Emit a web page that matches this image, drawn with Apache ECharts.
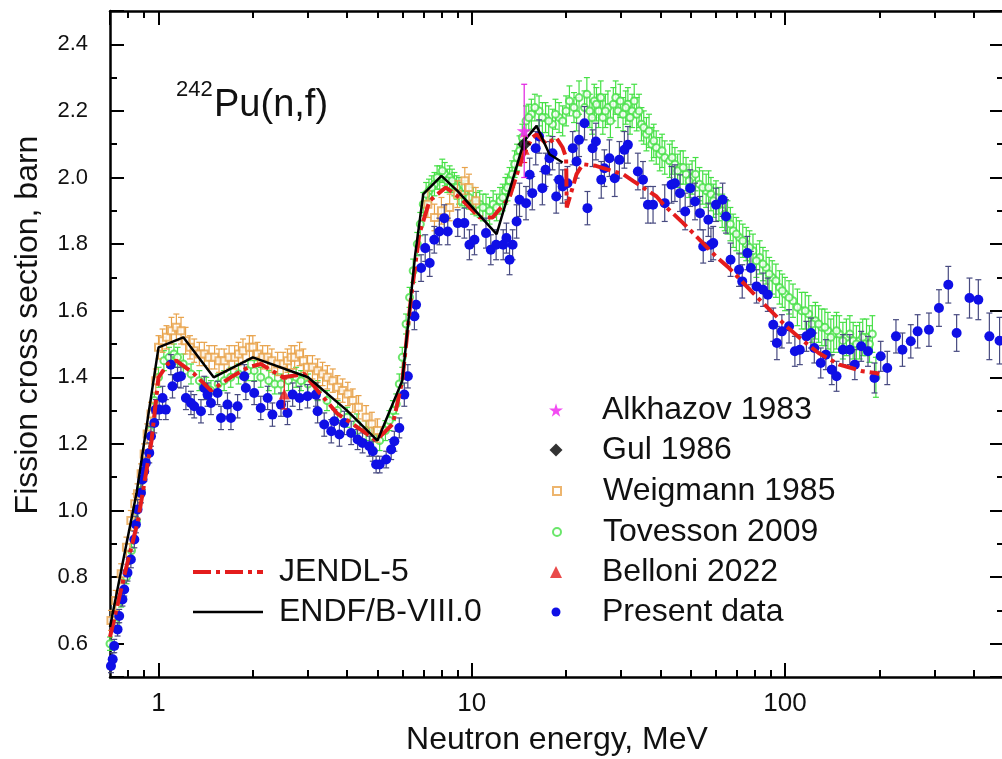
<!DOCTYPE html>
<html>
<head>
<meta charset="utf-8">
<script src="https://cdn.jsdelivr.net/npm/echarts@6.0.0/dist/echarts.min.js"></script>
<style>html,body{margin:0;padding:0;background:#fff}#main{width:1002px;height:759px}</style>
</head>
<body>
<div id="main"></div>
<script>
// 242Pu(n,f) fission cross section
var FONT = '"Liberation Sans", Arial, sans-serif';

var Y_MIN = 0.5, Y_MAX = 2.5;
var xMinorTicks = [0.8, 0.9, 2, 3, 4, 5, 6, 7, 8, 9, 20, 30, 40, 50, 60, 70, 80, 90, 200, 300, 400];

var endfE  = [0.7, 0.85, 1.0, 1.2, 1.5, 2.0, 3.0, 4.0, 5.0, 6.0, 6.6, 7.0, 8.0, 9.0, 12.0, 14.7, 16.1, 17.7, 19.5];
var endfXS = [0.65, 1.05, 1.49, 1.52, 1.40, 1.46, 1.40, 1.30, 1.21, 1.39, 1.77, 1.95, 2.005, 1.96, 1.83, 2.11, 2.155, 2.07, 2.045];

var jendlE  = [0.7, 0.78, 0.86, 0.95, 1.0, 1.07, 1.14, 1.3, 1.47, 1.7, 1.93, 2.12, 2.5, 2.92, 3.22, 3.73, 4.17, 4.95, 5.6, 6.0,
               6.4, 6.8, 7.33, 8.26, 9.13, 10.6, 11.65, 13.2, 14.5, 15.6, 16.1, 17.3, 18.6, 19.5, 20.0, 20.1, 21.6, 22.6, 24.9, 26.9,
               30.4, 32.7, 36.1, 38.9, 40.8, 47.3, 50.9, 60.2, 66.3, 79.1, 85, 101, 113, 128, 149, 163, 177, 195, 200];
var jendlXS = [0.62, 0.81, 0.97, 1.21, 1.40, 1.44, 1.45, 1.41, 1.36, 1.40, 1.43, 1.44, 1.40, 1.41, 1.36, 1.29, 1.26, 1.21, 1.26, 1.39,
               1.64, 1.83, 1.93, 1.97, 1.94, 1.88, 1.88, 1.94, 2.06, 2.12, 2.13, 2.10, 2.12, 2.09, 2.06, 1.91, 2.01, 2.04, 2.035, 2.025,
               2.01, 1.99, 1.963, 1.943, 1.92, 1.863, 1.833, 1.763, 1.728, 1.653, 1.623, 1.553, 1.513, 1.473, 1.438, 1.428, 1.418, 1.413, 1.41];

var presentE = [
  0.705, 0.714, 0.722, 0.74, 0.749, 0.767, 0.777, 0.796, 0.816, 0.837,
  0.847, 0.857, 0.879, 0.889, 0.90, 0.911, 0.934, 0.946, 0.969, 0.98,
  1.005, 1.03, 1.055, 1.095, 1.108, 1.15, 1.179, 1.223, 1.269, 1.30,
  1.366, 1.40, 1.434, 1.47, 1.543, 1.583, 1.66, 1.703, 1.788, 1.878,
  1.90, 2.02, 2.12, 2.23, 2.31, 2.46, 2.58, 2.68, 2.82, 2.99,
  3.18, 3.22, 3.38, 3.56, 3.64, 3.78, 3.92, 4.12, 4.32, 4.48,
  4.71, 4.83, 4.95, 5.08, 5.33, 5.53, 5.66, 5.87, 6.09, 6.25,
  6.56, 6.64, 6.89, 7.1, 7.34, 7.59, 7.88, 8.17, 8.38, 9.02,
  9.47, 9.83, 10.2, 11.1, 11.5, 11.96, 12.6, 12.9, 13.2, 13.5,
  13.9, 14.2, 14.9, 15.3, 15.6, 16.0, 16.4, 16.8, 17.2, 17.7,
  18.1, 18.6, 19.0, 19.5, 20.2, 21.0, 21.6, 22.0, 22.9, 23.4,
  24.3, 24.9, 25.9, 26.5, 27.5, 28.6, 29.6, 30.7, 31.5, 33.9,
  35.2, 36.5, 37.9, 41.3, 43.4, 44.5, 46.2, 48.0, 49.8, 51.6,
  53.5, 54.8, 56.9, 58.0, 59.0, 60.2, 63.2, 64.8, 67.0, 71.3,
  73.0, 75.8, 77.8, 81.1, 85.1, 88.1, 91.7, 94.2, 97.7, 103,
  107.5, 111.5, 117, 121, 124, 130, 135, 141, 146, 153,
  161, 167, 175, 184, 193, 202, 212, 226, 237, 252,
  265, 288, 310, 332, 353, 388, 414, 449, 484];
var presentXS = [
  0.533, 0.553, 0.593, 0.643, 0.683, 0.733, 0.763, 0.813, 0.853, 0.913,
  0.958, 1.003, 1.053, 1.093, 1.118, 1.143, 1.173, 1.223, 1.263, 1.303,
  1.303, 1.338, 1.303, 1.438, 1.373, 1.40, 1.403, 1.338, 1.323, 1.313,
  1.298, 1.368, 1.348, 1.323, 1.353, 1.278, 1.318, 1.278, 1.313, 1.403,
  1.368, 1.353, 1.308, 1.338, 1.288, 1.318, 1.293, 1.348, 1.338, 1.343,
  1.348, 1.298, 1.258, 1.238, 1.268, 1.228, 1.263, 1.233, 1.213, 1.203,
  1.193, 1.178, 1.138, 1.138, 1.153, 1.183, 1.208, 1.248, 1.348, 1.403,
  1.583, 1.618, 1.728, 1.788, 1.743, 1.813, 1.838, 1.878, 1.838, 1.863,
  1.863, 1.798, 1.813, 1.833, 1.783, 1.798, 1.798, 1.818, 1.753, 1.798,
  1.868, 1.933, 1.923, 2.008, 1.953, 2.088, 2.123, 1.968, 2.023, 2.058,
  2.073, 1.943, 1.993, 1.973, 1.983, 2.088, 2.048, 2.113, 2.163, 1.908,
  2.088, 2.108, 1.993, 2.028, 2.058, 1.998, 2.053, 2.083, 2.098, 2.018,
  1.993, 1.918, 1.918, 1.923, 1.978, 1.983, 1.953, 1.898, 1.968, 1.928,
  1.893, 1.793, 1.873, 1.798, 1.803, 1.918, 1.933, 1.883, 1.753, 1.723,
  1.688, 1.773, 1.728, 1.673, 1.663, 1.648, 1.558, 1.503, 1.538, 1.553,
  1.478, 1.483, 1.523, 1.533, 1.488, 1.443, 1.468, 1.423, 1.403, 1.483,
  1.483, 1.438, 1.493, 1.478, 1.398, 1.463, 1.428, 1.523, 1.483, 1.508,
  1.538, 1.543, 1.608, 1.678, 1.533, 1.638, 1.633, 1.523, 1.51];
var presentErr = [
  0.02, 0.02, 0.02, 0.02, 0.02, 0.02, 0.02, 0.025, 0.025, 0.025,
  0.025, 0.03, 0.03, 0.03, 0.03, 0.03, 0.03, 0.03, 0.03, 0.03,
  0.03, 0.035, 0.03, 0.03, 0.035, 0.03, 0.035, 0.035, 0.035, 0.035,
  0.035, 0.035, 0.035, 0.035, 0.035, 0.035, 0.035, 0.035, 0.035, 0.035,
  0.035, 0.035, 0.035, 0.035, 0.035, 0.035, 0.035, 0.035, 0.035, 0.035,
  0.035, 0.035, 0.035, 0.035, 0.035, 0.035, 0.035, 0.035, 0.03, 0.03,
  0.03, 0.03, 0.025, 0.025, 0.025, 0.03, 0.03, 0.03, 0.035, 0.035,
  0.04, 0.04, 0.04, 0.04, 0.04, 0.04, 0.04, 0.04, 0.04, 0.04,
  0.045, 0.045, 0.045, 0.045, 0.045, 0.045, 0.045, 0.045, 0.045, 0.045,
  0.05, 0.05, 0.05, 0.05, 0.05, 0.05, 0.05, 0.05, 0.05, 0.05,
  0.05, 0.05, 0.05, 0.05, 0.05, 0.05, 0.05, 0.05, 0.05, 0.05,
  0.055, 0.055, 0.055, 0.055, 0.055, 0.055, 0.055, 0.055, 0.055, 0.055,
  0.055, 0.055, 0.055, 0.055, 0.055, 0.055, 0.055, 0.055, 0.055, 0.055,
  0.05, 0.05, 0.05, 0.05, 0.05, 0.05, 0.05, 0.05, 0.05, 0.05,
  0.05, 0.05, 0.05, 0.05, 0.05, 0.05, 0.05, 0.05, 0.05, 0.05,
  0.045, 0.045, 0.045, 0.045, 0.045, 0.045, 0.045, 0.045, 0.045, 0.045,
  0.045, 0.045, 0.045, 0.045, 0.045, 0.045, 0.05, 0.05, 0.05, 0.05,
  0.05, 0.05, 0.055, 0.055, 0.055, 0.06, 0.06, 0.07, 0.07];

var tovE = [
  0.70, 0.73, 0.76, 0.79, 0.82, 0.85, 0.88, 0.91, 0.94, 0.97,
  1.00, 1.04, 1.08, 1.12, 1.15, 1.20, 1.27, 1.35, 1.42, 1.47,
  1.55, 1.62, 1.70, 1.80, 1.93, 2.02, 2.12, 2.25, 2.35, 2.46,
  2.60, 2.75, 2.85, 3.00, 3.22, 3.45, 3.73, 4.00, 4.30, 4.60,
  4.85, 5.08, 5.30, 5.46, 5.60, 5.74, 5.87, 6.00, 6.17, 6.33,
  6.50, 6.70, 6.85, 7.00, 7.30, 7.60, 7.90, 8.20, 8.50, 8.80,
  9.10, 9.50, 10.1, 10.6, 11.1, 11.7, 12.3, 12.8, 13.2, 13.7,
  14.2, 14.9, 15.5, 16.4, 17.2, 18.1, 19.0, 20.0, 20.5, 21.2,
  22.0, 22.9, 23.8, 24.6, 25.4, 26.2, 27.2, 28.3, 29.3, 30.4,
  31.5, 32.5, 33.6, 34.8, 36.1, 37.5, 38.8, 39.8, 41.3, 42.8,
  44.5, 46.3, 48.3, 50.5, 53.3, 56.0, 58.0, 60.2, 63.0, 65.5,
  68.3, 71.5, 75.2, 79.0, 83.0, 87.0, 91.0, 96.0, 100, 106,
  113, 119, 125, 131, 137, 143, 149, 157, 165, 173,
  182, 190, 195,
  7.15, 7.45, 7.75, 8.05, 8.35, 8.65, 8.95, 9.3, 9.8, 10.35,
  10.85, 11.4, 12.0, 12.55, 13.0, 13.45, 13.95, 14.5, 15.2, 15.9,
  16.8, 17.6, 18.5, 19.5, 21.6, 23.3, 24.2, 25.0, 25.8, 26.7,
  27.7, 28.8, 29.8, 31.0, 32.0, 33.0, 34.2, 35.4, 36.8, 38.1,
  40.5, 43.6, 45.4, 47.3, 49.4, 51.8, 54.6, 57, 59.1, 61.5,
  64.2, 66.9, 69.9, 73.3, 77, 81, 85, 89, 93.5, 98,
  103, 109.5, 116, 122, 128, 134, 140, 146, 153, 161,
  169, 177, 186];
var tovXS = [
  0.60, 0.66, 0.73, 0.80, 0.88, 0.97, 1.06, 1.15, 1.24, 1.33,
  1.40, 1.45, 1.46, 1.47, 1.46, 1.44, 1.41, 1.39, 1.37, 1.36,
  1.38, 1.39, 1.40, 1.41, 1.42, 1.42, 1.40, 1.39, 1.38, 1.38,
  1.39, 1.40, 1.39, 1.38, 1.36, 1.33, 1.30, 1.28, 1.26, 1.24,
  1.22, 1.21, 1.24, 1.27, 1.30, 1.32, 1.38, 1.46, 1.56, 1.64,
  1.72, 1.80, 1.86, 1.92, 1.96, 1.98, 2.00, 2.01, 2.00, 1.98,
  1.96, 1.95, 1.93, 1.92, 1.91, 1.92, 1.93, 1.96, 1.99, 2.04,
  2.08, 2.17, 2.19, 2.20, 2.18, 2.16, 2.18, 2.20, 2.23, 2.21,
  2.24, 2.21, 2.20, 2.23, 2.20, 2.18, 2.21, 2.22, 2.20, 2.19,
  2.22, 2.20, 2.19, 2.16, 2.13, 2.10, 2.09, 2.07, 2.06, 2.05,
  2.04, 2.03, 2.01, 2.00, 1.98, 1.96, 1.95, 1.94, 1.90, 1.88,
  1.84, 1.82, 1.80, 1.78, 1.76, 1.73, 1.70, 1.67, 1.65, 1.63,
  1.60, 1.59, 1.57, 1.55, 1.54, 1.53, 1.53, 1.52, 1.51, 1.51,
  1.52, 1.53, 1.40,
  1.95, 1.97, 2.00, 2.02, 1.99, 1.99, 1.97, 1.95, 1.94, 1.92,
  1.91, 1.90, 1.91, 1.94, 1.97, 2.01, 2.06, 2.12, 2.18, 2.21,
  2.18, 2.17, 2.19, 2.17, 2.19, 2.25, 2.18, 2.22, 2.24, 2.20,
  2.17, 2.24, 2.23, 2.21, 2.18, 2.23, 2.20, 2.15, 2.14, 2.11,
  2.08, 2.06, 2.02, 2.03, 1.99, 2.01, 1.97, 1.97, 1.93, 1.92,
  1.89, 1.86, 1.83, 1.81, 1.79, 1.75, 1.74, 1.71, 1.69, 1.66,
  1.64, 1.61, 1.60, 1.56, 1.56, 1.55, 1.52, 1.54, 1.51, 1.53,
  1.50, 1.52, 1.50];
var tovErr = [
  0.02, 0.02, 0.02, 0.02, 0.02, 0.02, 0.02, 0.02, 0.02, 0.02,
  0.03, 0.03, 0.03, 0.03, 0.03, 0.03, 0.03, 0.03, 0.03, 0.03,
  0.03, 0.03, 0.03, 0.03, 0.03, 0.03, 0.03, 0.03, 0.03, 0.03,
  0.03, 0.03, 0.03, 0.03, 0.03, 0.03, 0.03, 0.03, 0.03, 0.03,
  0.03, 0.03, 0.03, 0.03, 0.03, 0.03, 0.03, 0.03, 0.03, 0.03,
  0.035, 0.035, 0.035, 0.035, 0.035, 0.035, 0.035, 0.035, 0.035, 0.035,
  0.04, 0.04, 0.04, 0.04, 0.04, 0.04, 0.04, 0.04, 0.04, 0.04,
  0.045, 0.045, 0.045, 0.045, 0.045, 0.045, 0.045, 0.045, 0.045, 0.045,
  0.05, 0.05, 0.05, 0.05, 0.05, 0.05, 0.05, 0.05, 0.05, 0.05,
  0.05, 0.05, 0.05, 0.05, 0.05, 0.05, 0.05, 0.05, 0.05, 0.05,
  0.05, 0.05, 0.05, 0.05, 0.05, 0.05, 0.05, 0.05, 0.05, 0.05,
  0.05, 0.05, 0.05, 0.05, 0.05, 0.05, 0.05, 0.05, 0.05, 0.05,
  0.055, 0.055, 0.055, 0.055, 0.055, 0.055, 0.055, 0.055, 0.055, 0.055,
  0.055, 0.055, 0.06,
  0.035, 0.035, 0.035, 0.035, 0.035, 0.035, 0.035, 0.035, 0.035, 0.035,
  0.04, 0.04, 0.04, 0.04, 0.04, 0.04, 0.04, 0.04, 0.04, 0.04,
  0.045, 0.045, 0.045, 0.045, 0.05, 0.05, 0.05, 0.05, 0.05, 0.05,
  0.05, 0.05, 0.05, 0.05, 0.05, 0.05, 0.05, 0.05, 0.05, 0.05,
  0.05, 0.05, 0.05, 0.05, 0.05, 0.05, 0.05, 0.05, 0.05, 0.05,
  0.05, 0.05, 0.05, 0.05, 0.05, 0.05, 0.05, 0.05, 0.05, 0.05,
  0.05, 0.055, 0.055, 0.055, 0.055, 0.055, 0.055, 0.055, 0.055, 0.055,
  0.055, 0.055, 0.055];

var weigE = [
  0.705, 0.73, 0.76, 0.79, 0.816, 0.84, 0.857, 0.88, 0.90, 0.92,
  0.946, 0.98, 1.00, 1.03, 1.06, 1.10, 1.14, 1.18, 1.22, 1.26,
  1.30, 1.35, 1.40, 1.45, 1.51, 1.56, 1.62, 1.68, 1.75, 1.80,
  1.86, 1.95, 2.00, 2.07, 2.15, 2.23, 2.30, 2.40, 2.50, 2.58,
  2.65, 2.72, 2.82, 2.90, 2.99, 3.10, 3.22, 3.34, 3.46, 3.60,
  3.73, 3.87, 4.02, 4.17, 4.35, 4.60, 4.80, 5.00, 7.24, 7.60,
  8.00, 8.50, 9.00, 9.50, 9.80, 10.3];
var weigXS = [
  0.67, 0.73, 0.81, 0.89, 0.97, 1.02, 1.05, 1.11, 1.17, 1.23,
  1.29, 1.39, 1.49, 1.51, 1.52, 1.54, 1.55, 1.54, 1.51, 1.49,
  1.48, 1.47, 1.47, 1.46, 1.46, 1.45, 1.45, 1.46, 1.46, 1.47,
  1.48, 1.49, 1.49, 1.47, 1.46, 1.46, 1.45, 1.44, 1.44, 1.45,
  1.46, 1.46, 1.47, 1.45, 1.43, 1.43, 1.42, 1.41, 1.40, 1.39,
  1.37, 1.36, 1.35, 1.33, 1.31, 1.28, 1.26, 1.24, 1.92, 1.88,
  1.90, 1.91, 1.95, 1.99, 1.97, 1.93];
var weigErr = [
  0.03, 0.03, 0.03, 0.03, 0.03, 0.03, 0.03, 0.03, 0.03, 0.03,
  0.035, 0.035, 0.035, 0.035, 0.035, 0.04, 0.04, 0.04, 0.04, 0.035,
  0.035, 0.035, 0.035, 0.035, 0.035, 0.035, 0.035, 0.035, 0.035, 0.035,
  0.035, 0.035, 0.035, 0.035, 0.035, 0.035, 0.035, 0.035, 0.035, 0.035,
  0.035, 0.035, 0.035, 0.035, 0.035, 0.035, 0.035, 0.035, 0.035, 0.035,
  0.035, 0.035, 0.035, 0.035, 0.035, 0.035, 0.035, 0.035, 0.04, 0.04,
  0.04, 0.04, 0.04, 0.04, 0.04, 0.04];

var belloniE = [2.52, 14.7];
var belloniXS = [1.35, 2.085];
var belloniErr = [0.045, 0.04];

var gulE = [14.7];
var gulXS = [2.10];

var alkE = [14.7];
var alkXS = [2.14];
var alkErr = [0.14];

var STAR = 'path://M50,0 L61,35 L98,35 L68,57 L79,91 L50,70 L21,91 L32,57 L2,35 L39,35 Z';

function pairs(xs, ys) {
  return xs.map(function (x, i) { return [x, ys[i]]; });
}
function bars(xs, ys, es) {
  return xs.map(function (x, i) { return [x, ys[i] - es[i], ys[i] + es[i]]; });
}

function errSeries(name, data, color, cap, z) {
  return {
    name: name,
    type: 'custom',
    z: z,
    silent: true,
    data: data,
    encode: { x: 0, y: [1, 2] },
    renderItem: function (params, api) {
      var x = api.value(0);
      var lo = api.coord([x, api.value(1)]);
      var hi = api.coord([x, api.value(2)]);
      var st = { stroke: color, lineWidth: 1.2 };
      return {
        type: 'group',
        children: [
          { type: 'line', shape: { x1: lo[0], y1: lo[1], x2: hi[0], y2: hi[1] }, style: st },
          { type: 'line', shape: { x1: hi[0] - cap, y1: hi[1], x2: hi[0] + cap, y2: hi[1] }, style: st },
          { type: 'line', shape: { x1: lo[0] - cap, y1: lo[1], x2: lo[0] + cap, y2: lo[1] }, style: st }
        ]
      };
    }
  };
}

var myChart = echarts.init(document.getElementById('main'));

var tick = { inside: true, length: 14, lineStyle: { color: '#000', width: 2 } };
var axisLine = { onZero: false, lineStyle: { color: '#000', width: 2.5 } };

function xAx(pos, show) {
  return {
    type: 'log', logBase: 10, min: 0.7, max: 500, position: pos,
    axisLine: axisLine, axisTick: tick,
    splitLine: { show: false },
    axisLabel: { show: show, fontSize: 26, color: '#111', margin: 14, fontFamily: FONT,
                 showMinLabel: false, showMaxLabel: false },
    name: show ? 'Neutron energy, MeV' : '', nameLocation: 'middle', nameGap: 47,
    nameTextStyle: { fontSize: 32, color: '#111', fontFamily: FONT }
  };
}
// overlay axis that only carries the minor ticks of the log scale
function xMinorAx(pos) {
  return {
    type: 'log', logBase: 10, min: 0.7, max: 500, position: pos,
    axisLine: { show: false },
    axisTick: { show: true, inside: true, length: 7, customValues: xMinorTicks,
                lineStyle: { color: '#000', width: 2 } },
    axisLabel: { show: false },
    splitLine: { show: false }
  };
}
function yAx(pos, show) {
  return {
    type: 'value', min: Y_MIN, max: Y_MAX, splitNumber: 10, position: pos,
    axisLine: axisLine, axisTick: tick,
    minorTick: { show: true, splitNumber: 2, length: 7, lineStyle: { color: '#000', width: 2 } },
    splitLine: { show: false }, minorSplitLine: { show: false },
    axisLabel: { show: show, fontSize: 22, color: '#111', margin: 22, fontFamily: FONT,
                 showMinLabel: false, showMaxLabel: false,
                 formatter: function (v) { return v.toFixed(1); } },
    name: show ? 'Fission cross section, barn' : '', nameLocation: 'middle', nameGap: 66,
    nameTextStyle: { fontSize: 32, color: '#111', fontFamily: FONT, padding: [0, 0, 0, 38] }
  };
}

// right-hand legend, one block per entry so each marker keeps its own size
var rightNames = ['Alkhazov 1983', 'Gul 1986', 'Weigmann 1985', 'Tovesson 2009', 'Belloni 2022', 'Present data'];
var rightSizes = [14, 13, 8, 8, 12, 9];
var rightTops = [389, 429, 470, 511, 551, 591];

var legends = [{
  left: 186, top: 551, orient: 'vertical', itemGap: 8, itemWidth: 70, itemHeight: 14,
  selectedMode: false,
  textStyle: { fontSize: 32, lineHeight: 32, color: '#111', fontFamily: FONT, padding: [0, 0, 0, 11] },
  data: [
    { name: 'JENDL-5', itemStyle: { opacity: 0 }, lineStyle: { width: 4 } },
    { name: 'ENDF/B-VIII.0', itemStyle: { opacity: 0 }, lineStyle: { width: 2.5 } }
  ]
}];
rightNames.forEach(function (n, i) {
  var s = rightSizes[i];
  legends.push({
    left: 556 - s / 2 - 5, top: rightTops[i], itemWidth: s, itemHeight: s,
    selectedMode: false,
    textStyle: { fontSize: 32, lineHeight: 32, color: '#111', fontFamily: FONT, padding: [0, 0, 0, 41 - s / 2] },
    data: [n]
  });
});

option = {
  backgroundColor: '#fff',
  animation: false,
  grid: { left: 110, right: -2, top: 11, bottom: 82, outerBoundsMode: 'none' },
  xAxis: [xAx('bottom', true), xAx('top', false), xMinorAx('bottom'), xMinorAx('top')],
  yAxis: [yAx('left', true), yAx('right', false)],
  graphic: [
    { type: 'text', left: 176, top: 79, style: { text: '242', fontSize: 22, fontFamily: FONT, fill: '#111' } },
    { type: 'text', left: 214, top: 87, style: { text: 'Pu(n,f)', fontSize: 38, fontFamily: FONT, fill: '#111' } }
  ],
  legend: legends,
  series: [
    errSeries('tovErr', bars(tovE, tovXS, tovErr), '#45e045', 3, 1),
    {
      name: 'Tovesson 2009', type: 'scatter', z: 2, symbol: 'emptyCircle', symbolSize: 7,
      itemStyle: { color: '#45e045', borderColor: '#45e045', borderWidth: 1.2 },
      data: pairs(tovE, tovXS)
    },
    errSeries('weigErr', bars(weigE, weigXS, weigErr), '#e8a24a', 3, 3),
    {
      name: 'Weigmann 1985', type: 'scatter', z: 4, symbol: 'emptyRect', symbolSize: 7,
      itemStyle: { color: '#e8a24a', borderColor: '#e8a24a', borderWidth: 1.2 },
      data: pairs(weigE, weigXS)
    },
    errSeries('presentErr', bars(presentE, presentXS, presentErr), '#474a80', 3, 5),
    {
      name: 'Present data', type: 'scatter', z: 6, symbol: 'circle', symbolSize: 10,
      itemStyle: { color: '#0f0fe6', opacity: 1 },
      data: pairs(presentE, presentXS)
    },
    {
      name: 'JENDL-5', type: 'line', z: 7, symbol: 'none', showSymbol: false,
      lineStyle: { color: '#e41c1c', width: 4, type: [18, 5, 4, 5] },
      itemStyle: { color: '#e41c1c' },
      data: pairs(jendlE, jendlXS)
    },
    errSeries('belErr', bars(belloniE, belloniXS, belloniErr), '#e41c1c', 3, 8),
    {
      name: 'Belloni 2022', type: 'scatter', z: 9, symbol: 'triangle', symbolSize: 11,
      itemStyle: { color: '#e41c1c' },
      data: pairs(belloniE, belloniXS)
    },
    {
      name: 'ENDF/B-VIII.0', type: 'line', z: 10, symbol: 'none', showSymbol: false,
      lineStyle: { color: '#000', width: 2.5 },
      itemStyle: { color: '#000' },
      data: pairs(endfE, endfXS)
    },
    {
      name: 'Gul 1986', type: 'scatter', z: 11, symbol: 'diamond', symbolSize: 14,
      itemStyle: { color: '#000' },
      data: pairs(gulE, gulXS)
    },
    errSeries('alkErr', bars(alkE, alkXS, alkErr), '#e020e0', 3, 12),
    {
      name: 'Alkhazov 1983', type: 'scatter', z: 13, symbol: STAR, symbolSize: 15,
      itemStyle: { color: '#f02cf0', opacity: 0.85 },
      data: pairs(alkE, alkXS)
    }
  ]
};
myChart.setOption(option);
</script>
</body>
</html>
